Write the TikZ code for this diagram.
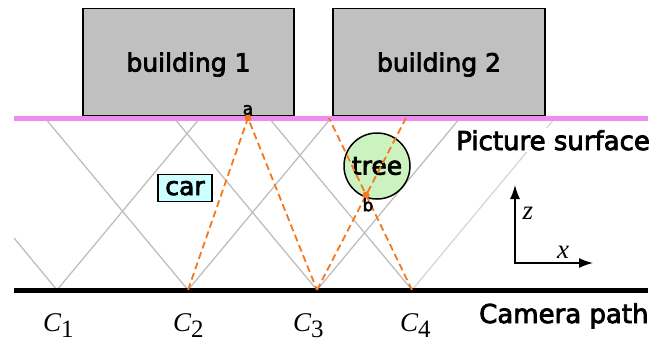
\documentclass[tikz,border=0pt]{standalone}
\usepackage{fontspec}
\setmainfont{DejaVu Sans}[RawFeature={embolden=3}]
\newfontfamily\timesfont{Liberation Serif}
\usetikzlibrary{arrows.meta, positioning}

\definecolor{housegray}{RGB}{192,192,192}
\definecolor{raygray}{RGB}{190,190,190}
\definecolor{faintgray}{RGB}{215,215,215}
\definecolor{surfpink}{RGB}{240,140,240}
\definecolor{sightorange}{RGB}{245,120,30}
\definecolor{carcyan}{RGB}{204,255,255}
\definecolor{treegreen}{RGB}{204,242,192}

\newcommand\bigsans{\fontsize{25}{30}\selectfont}
\newcommand\camsub[1]{\raisebox{-6pt}{\upshape\fontsize{25}{30}\selectfont #1}}

\begin{document}
\begin{tikzpicture}[x=1pt,y=-1pt,
    house/.style={draw,line width=1.5pt,fill=housegray,minimum width=211pt,minimum height=107pt,font=\bigsans,text height=19pt,text depth=0pt},
    ray/.style={draw=raygray,line width=1.3pt},
    sight/.style={draw=sightorange,line width=1.8pt,dash pattern=on 7pt off 4pt},
    thing/.style={draw,line width=1.5pt,font=\bigsans,inner sep=0pt},
    ptlabel/.style={font=\fontsize{17}{19}\selectfont,inner sep=1pt},
    camlabel/.style={font=\timesfont\itshape\fontsize{27}{30}\selectfont,inner sep=0pt,anchor=base west},
    axlabel/.style={font=\timesfont\itshape\fontsize{27}{30}\selectfont,inner sep=0pt},
    caption/.style={font=\fontsize{26}{30}\selectfont,inner sep=2pt,fill=white,anchor=base west}]
  \useasboundingbox (0,0) rectangle (665,341);
  % cameras and rays
  \coordinate (C1) at (57,290);
  \coordinate (C2) at (188,290);
  \coordinate (C3) at (317,290);
  \coordinate (C4) at (412,290);
  \coordinate (L1) at (14,238);
  \coordinate (R1) at (200,118);
  \coordinate (L2) at (45,118);
  \coordinate (R2) at (331,118);
  \coordinate (L3) at (174,118);
  \coordinate (R3) at (460,118);
  \coordinate (L4) at (269,118);
  \coordinate (R4) at (555,118);
  \draw[ray] (L1) -- (C1) -- (R1);
  \draw[ray] (L2) -- (C2) -- (R2);
  \draw[ray] (L3) -- (C3) -- (R3);
  \draw[ray] (L4) -- (C4);
  \draw[ray,draw=faintgray] (C4) -- (R4);
  % picture surface and camera path
  \coordinate (S0) at (14,118);
  \coordinate (S1) at (648,118);
  \coordinate (P0) at (14,290);
  \coordinate (P1) at (648,290);
  \draw[surfpink,line width=5pt] (S0) -- (S1);
  \draw[black,line width=5pt] (P0) -- (P1);
  \node[house] (b1) at (188.5,62) {building 1};
  \node[house,minimum width=212pt] (b2) at (439,62) {building 2};
  \node[thing,fill=carcyan,minimum width=54pt,minimum height=27pt,text height=14pt,text depth=0pt] (car) at (185,188) {car};
  \node[thing,circle,fill=treegreen,minimum size=66pt] (tree) at (377,166) {tree};
  % seen points
  \coordinate (a) at (248,118);
  \coordinate (b) at (366,195);
  \coordinate (T3) at (406,118);
  \coordinate (T4) at (329,118);
  \draw[sight] (C2) -- (a) -- (C3);
  \draw[sight] (C3) -- (T3);
  \draw[sight] (C4) -- (T4);
  \fill[sightorange] (a) circle (3.5pt);
  \fill[sightorange] (b) circle (3.5pt);
  \node[ptlabel,above=2pt of a] (alabel) {a};
  \node[ptlabel,below=2pt of b,xshift=2pt] (blabel) {b};
  % axes
  \coordinate (O) at (515,263);
  \coordinate (Z) at (515,185);
  \coordinate (X) at (593,263);
  \draw[line width=1.5pt,{Latex[length=14pt,width=10pt]}-{Latex[length=14pt,width=10pt]}] (Z) -- (O) -- (X);
  \node[axlabel] (zlabel) at (528,213) {z};
  \node[axlabel] (xlabel) at (563,252) {x};
  % labels
  \node[camlabel] (c1) at (43,331) {C\camsub{1}};
  \node[camlabel] (c2) at (173,331) {C\camsub{2}};
  \node[camlabel] (c3) at (293,331) {C\camsub{3}};
  \node[camlabel] (c4) at (400,331) {C\camsub{4}};
  \node[caption] (surf) at (454,150) {Picture surface};
  \node[caption] (path) at (477,323) {Camera path};
\end{tikzpicture}
\end{document}
